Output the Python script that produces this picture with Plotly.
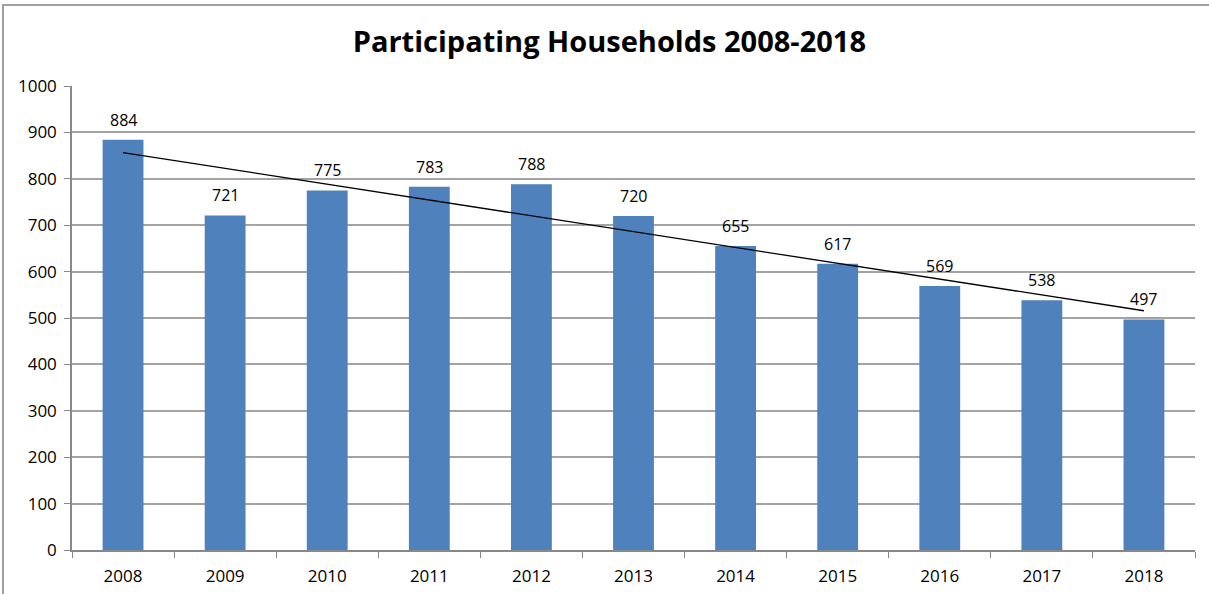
import numpy as np
import plotly.graph_objects as go

years = ["2008", "2009", "2010", "2011", "2012", "2013", "2014", "2015", "2016", "2017", "2018"]
households = [884, 721, 775, 783, 788, 720, 655, 617, 569, 538, 497]
y_ticks = [0, 100, 200, 300, 400, 500, 600, 700, 800, 900, 1000]

idx = np.arange(len(years))
slope, intercept = np.polyfit(idx, households, 1)
trend = [intercept + slope * i for i in idx]

font_family = "Open Sans, Liberation Sans, sans-serif"

fig = go.Figure()
fig.add_trace(go.Bar(
    x=years, y=households, width=0.4,
    marker=dict(color="#4F81BD", line=dict(width=0)),
    hoverinfo="skip",
))
fig.add_trace(go.Scatter(
    x=[years[0], years[-1]], y=[trend[0], trend[-1]],
    mode="lines", line=dict(color="black", width=1.3), hoverinfo="skip",
))
for i, v in zip(idx, households):
    fig.add_annotation(x=int(i), y=v, text=str(v), showarrow=False,
                       yanchor="bottom", yshift=7,
                       font=dict(size=16, color="black", family=font_family))

fig.update_layout(
    width=1209, height=594,
    margin=dict(l=72, r=14, t=86, b=44, autoexpand=False),
    paper_bgcolor="white", plot_bgcolor="white",
    showlegend=False,
    title=dict(text="<b>Participating Households 2008-2018</b>", x=0.504, xanchor="center",
               y=1 - 42 / 594, yanchor="middle",
               font=dict(size=29, color="black", family=font_family)),
    font=dict(family=font_family, size=17, color="black"),
    xaxis=dict(type="category", range=[-0.5, len(years) - 0.5], tickson="boundaries",
               ticks="outside", ticklen=6, tickangle=0, ticklabelstandoff=10,
               tickcolor="#888888", showline=True, linecolor="#888888", linewidth=1.5,
               showgrid=False, tickfont=dict(size=17), fixedrange=True),
    yaxis=dict(range=[0, 1000], tickvals=y_ticks, ticks="outside", ticklen=6,
               ticklabelstandoff=4,
               tickcolor="#888888", showline=True, linecolor="#888888", linewidth=1.5,
               showgrid=True, gridcolor="#a3a3a3", gridwidth=1.5, zeroline=False,
               tickfont=dict(size=17), fixedrange=True),
    shapes=[dict(type="rect", xref="paper", yref="paper",
                 x0=-69 / 1123, x1=1215 / 1123, y0=-0.2, y1=545 / 464,
                 line=dict(color="#a0a0a0", width=2), layer="below")],
)

fig.write_html("out.html", config={"displayModeBar": False},
               post_script="document.body.style.margin='0px';")
